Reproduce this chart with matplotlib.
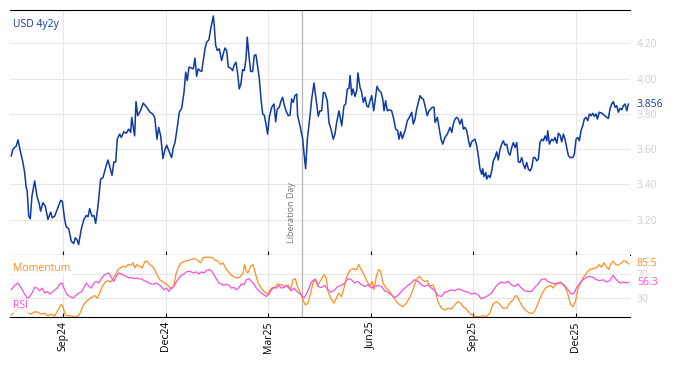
import pandas as pd
import matplotlib
matplotlib.use("Agg")
import matplotlib.pyplot as plt
import matplotlib.dates as mdates

plt.rcParams['font.family'] = ['Open Sans', 'DejaVu Sans']

# days counted from this date
start = pd.Timestamp("2024-07-15")

# USD 4y2y rate
usd_days = [3.0, 4.5, 7.5, 9.0, 11.4, 13.4, 14.9, 16.3, 17.2, 18.5,
            19.9, 21.4, 23.8, 25.8, 27.6, 29.1, 31.1, 33.2, 35.6, 38.0,
            39.4, 41.5, 43.8, 46.9, 48.3, 50.4, 51.8, 54.0, 56.3, 58.4,
            59.8, 61.3, 62.8, 65.1, 67.5, 69.6, 71.1, 72.6, 74.6, 76.4,
            77.9, 80.0, 82.3, 84.4, 86.4, 88.8, 90.3, 92.4, 94.1, 95.7,
            97.1, 99.2, 100.6, 103.0, 105.1, 107.2, 109.0, 109.9, 112.5, 113.7,
            115.2, 117.8, 120.1, 123.2, 126.1, 128.5, 130.3, 132.3, 133.8, 135.6,
            137.6, 139.1, 140.9, 143.2, 145.3, 146.8, 148.3, 150.3, 152.1, 154.2,
            156.3, 157.8, 159.2, 160.7, 162.5, 164.5, 166.0, 167.5, 168.9, 170.5,
            172.0, 173.4, 174.9, 176.4, 178.4, 180.0, 182.3, 183.1, 184.4, 185.8,
            187.6, 189.7, 191.1, 192.6, 194.1, 195.6, 197.7, 199.5, 200.6, 202.4,
            203.9, 205.3, 206.8, 208.3, 209.8, 211.3, 212.4, 213.9, 215.4, 217.2,
            218.6, 220.1, 221.7, 223.1, 224.6, 226.1, 227.5, 229.0, 230.5, 231.9,
            234.1, 236.1, 237.6, 239.0, 240.8, 242.1, 243.8, 245.0, 246.8, 248.8,
            250.3, 251.8, 253.2, 254.7, 256.3, 257.1, 259.2, 261.6, 262.7, 264.2,
            265.7, 267.4, 269.6, 271.6, 273.4, 275.4, 276.9, 278.4, 279.9, 281.4,
            283.4, 284.9, 286.7, 288.7, 290.2, 291.7, 293.8, 296.2, 298.2, 299.7,
            301.2, 302.7, 303.6, 305.1, 306.2, 308.0, 309.5, 310.6, 312.4, 313.9,
            315.4, 316.9, 318.4, 319.8, 321.3, 322.8, 324.6, 326.4, 327.5, 329.3,
            331.1, 332.6, 333.7, 335.2, 336.6, 338.4, 340.5, 342.0, 344.1, 345.9,
            347.0, 348.5, 350.0, 352.4, 354.4, 356.2, 358.3, 359.7, 361.2, 362.7,
            364.2, 365.7, 367.2, 368.6, 370.1, 372.1, 373.6, 375.2, 376.6, 378.1,
            379.0, 381.0, 382.8, 384.3, 385.8, 387.8, 389.9, 392.3, 393.8, 395.2,
            396.7, 398.2, 399.6, 401.1, 402.7, 404.1, 405.6, 407.1, 408.5, 410.0,
            411.5, 412.4, 414.4, 416.0, 417.4, 418.9, 420.4, 421.3, 422.4, 424.0,
            424.8, 426.3, 427.8, 429.3, 430.7, 432.2, 433.7, 435.1, 436.6, 438.2,
            439.6, 441.1, 442.6, 444.0, 445.5, 447.0, 448.4, 450.0, 451.5, 452.9,
            454.4, 455.9, 457.3, 458.8, 460.3, 461.8, 463.3, 464.8, 466.2, 467.7,
            469.2, 470.6, 472.1, 473.6, 475.1, 476.6, 478.1, 479.0, 480.4, 482.5,
            483.9, 485.4, 487.0, 488.4, 489.9, 491.4, 492.8, 494.3, 495.8, 497.2,
            498.8, 501.2, 502.6, 504.1, 505.6, 507.0, 508.5, 510.0, 511.4, 513.0,
            514.5, 515.9, 517.4, 518.9, 520.3, 521.8, 523.0, 524.7, 526.9, 528.9,
            531.3, 532.7, 534.2, 535.7, 537.2, 538.7, 540.2, 541.6, 543.1, 544.6,
            546.1, 547.6, 549.1, 550.5]
usd_vals = [3.562, 3.600, 3.619, 3.653, 3.580, 3.525, 3.468, 3.382, 3.363, 3.220,
            3.206, 3.334, 3.420, 3.334, 3.297, 3.249, 3.297, 3.277, 3.202, 3.243,
            3.211, 3.220, 3.259, 3.310, 3.306, 3.202, 3.160, 3.149, 3.078, 3.065,
            3.097, 3.088, 3.059, 3.145, 3.202, 3.224, 3.217, 3.263, 3.220, 3.224,
            3.179, 3.277, 3.430, 3.439, 3.487, 3.539, 3.505, 3.452, 3.528, 3.528,
            3.657, 3.686, 3.667, 3.699, 3.691, 3.714, 3.695, 3.780, 3.676, 3.870,
            3.790, 3.820, 3.862, 3.838, 3.810, 3.800, 3.780, 3.657, 3.724, 3.676,
            3.547, 3.591, 3.623, 3.585, 3.553, 3.610, 3.638, 3.724, 3.810, 3.832,
            3.923, 4.037, 3.990, 4.066, 4.062, 4.056, 4.117, 4.014, 4.056, 4.046,
            4.041, 4.103, 4.170, 4.208, 4.221, 4.284, 4.356, 4.303, 4.189, 4.160,
            4.170, 4.103, 4.141, 4.174, 4.160, 4.066, 4.060, 4.046, 4.075, 4.094,
            4.027, 3.942, 3.971, 4.052, 4.046, 4.113, 4.236, 4.132, 4.041, 4.041,
            4.132, 4.136, 4.066, 4.000, 3.885, 3.800, 3.794, 3.743, 3.686, 3.781,
            3.838, 3.857, 3.756, 3.828, 3.838, 3.870, 3.895, 3.857, 3.818, 3.790,
            3.794, 3.885, 3.866, 3.904, 3.913, 3.790, 3.733, 3.657, 3.580, 3.490,
            3.657, 3.752, 3.885, 3.976, 3.885, 3.787, 3.818, 3.818, 3.923, 3.918,
            3.875, 3.752, 3.714, 3.657, 3.686, 3.752, 3.818, 3.733, 3.847, 3.857,
            3.942, 3.946, 4.018, 3.908, 3.942, 3.900, 3.933, 4.033, 3.952, 3.923,
            3.866, 3.895, 3.847, 3.838, 3.875, 3.904, 3.818, 3.904, 3.957, 3.933,
            3.923, 3.885, 3.818, 3.875, 3.818, 3.824, 3.818, 3.781, 3.714, 3.705,
            3.657, 3.699, 3.661, 3.705, 3.762, 3.781, 3.810, 3.743, 3.771, 3.828,
            3.866, 3.904, 3.889, 3.885, 3.847, 3.790, 3.818, 3.828, 3.838, 3.838,
            3.752, 3.781, 3.714, 3.657, 3.629, 3.667, 3.686, 3.724, 3.695, 3.743,
            3.771, 3.781, 3.771, 3.743, 3.771, 3.714, 3.724, 3.705, 3.657, 3.613,
            3.642, 3.648, 3.657, 3.619, 3.562, 3.487, 3.458, 3.490, 3.445, 3.468,
            3.430, 3.452, 3.439, 3.477, 3.534, 3.553, 3.585, 3.539, 3.600, 3.629,
            3.648, 3.623, 3.629, 3.582, 3.566, 3.610, 3.638, 3.610, 3.638, 3.528,
            3.525, 3.553, 3.515, 3.490, 3.525, 3.487, 3.477, 3.496, 3.553, 3.553,
            3.534, 3.543, 3.638, 3.657, 3.648, 3.676, 3.648, 3.705, 3.629, 3.657,
            3.648, 3.667, 3.634, 3.691, 3.680, 3.642, 3.686, 3.657, 3.610, 3.566,
            3.553, 3.553, 3.572, 3.657, 3.667, 3.648, 3.705, 3.733, 3.771, 3.781,
            3.762, 3.800, 3.790, 3.804, 3.787, 3.800, 3.771, 3.810, 3.805, 3.794,
            3.781, 3.775, 3.828, 3.857, 3.870, 3.838, 3.847, 3.810, 3.832, 3.824,
            3.847, 3.857, 3.818, 3.856]

# RSI
rsi_days = [3.0, 6.0, 9.0, 11.9, 14.9, 17.2, 19.3, 21.4, 23.8, 26.1,
            28.2, 30.5, 32.7, 35.0, 37.1, 39.4, 41.5, 43.8, 46.0, 48.0,
            50.4, 52.7, 55.1, 57.8, 60.2, 62.8, 65.1, 67.5, 69.6, 72.0,
            74.0, 76.4, 78.4, 80.6, 82.9, 85.3, 87.3, 89.7, 91.7, 94.1,
            96.2, 98.6, 100.6, 103.0, 105.1, 107.5, 109.5, 111.9, 113.9, 116.3,
            118.4, 120.8, 122.8, 125.2, 127.2, 129.6, 131.7, 134.1, 136.1, 138.5,
            140.5, 142.9, 145.0, 147.4, 149.4, 151.8, 153.9, 156.3, 158.3, 160.7,
            162.7, 165.1, 167.2, 169.6, 171.6, 174.0, 176.0, 178.4, 180.5, 182.9,
            184.9, 187.3, 189.4, 191.7, 193.8, 196.2, 198.2, 200.6, 202.7, 205.1,
            207.1, 209.5, 211.5, 213.9, 216.0, 218.4, 220.4, 222.8, 224.8, 227.2,
            229.3, 231.7, 233.7, 236.1, 238.2, 240.5, 242.6, 245.0, 247.0, 249.4,
            251.5, 253.9, 255.9, 258.3, 260.3, 262.7, 264.8, 267.2, 269.2, 271.6,
            273.6,
            275.2, 278.1, 281.1, 284.0, 287.0, 289.9, 292.9, 295.9, 298.8, 301.8,
            304.7, 307.7, 310.6, 313.6, 316.6, 319.5, 322.5, 325.4, 328.4, 331.4,
            334.3, 337.3, 340.2, 343.2, 346.1, 349.1, 352.1, 355.0, 358.0, 360.9,
            363.9, 366.8, 369.8, 372.8, 375.7, 378.7, 381.6, 384.6, 387.6, 390.5,
            393.5, 396.4, 399.4, 402.3, 405.3, 408.3, 411.2, 414.2, 417.1, 420.1,
            423.1, 426.0, 429.0, 431.9, 434.9, 437.8, 440.8, 443.8, 446.7, 449.7,
            452.6, 455.6, 458.5, 461.5, 464.5, 467.4, 470.4, 473.3, 476.3, 479.2,
            482.2, 485.2, 488.1, 491.1, 494.0, 497.0, 499.9, 502.3, 504.4, 507.4,
            510.3, 513.3, 516.2, 519.2, 522.1, 525.1, 528.0, 531.0, 534.0, 536.9,
            539.9, 542.8, 545.8, 548.8, 550.8]
rsi_vals = [43.9, 50.9, 54.8, 46.6, 36.9, 30.4, 33.0, 38.5, 47.7, 46.6,
            42.3, 46.6, 38.5, 41.2, 36.9, 40.1, 43.9, 46.6, 53.2, 54.8,
            43.9, 35.8, 33.0, 30.4, 34.6, 38.5, 40.1, 47.7, 54.8, 49.3,
            46.6, 54.8, 57.4, 54.8, 61.8, 67.2, 69.4, 71.1, 63.9, 57.4,
            65.5, 71.1, 69.4, 67.2, 65.5, 62.9, 63.9, 61.8, 62.9, 61.3,
            61.8, 58.5, 57.4, 54.8, 53.2, 53.2, 54.8, 52.0, 49.3, 43.9,
            46.6, 41.2, 46.6, 49.3, 56.4, 62.9, 67.2, 69.4, 72.7, 73.7,
            72.7, 71.1, 72.7, 69.4, 72.7, 71.1, 74.8, 76.4, 74.8, 68.3,
            61.8, 54.8, 53.2, 50.9, 53.2, 50.9, 46.6, 47.7, 43.9, 47.7,
            53.2, 52.0, 60.2, 61.8, 57.4, 53.2, 46.6, 42.3, 38.5, 35.8,
            33.0, 36.9, 43.9, 47.7, 46.6, 50.9, 46.6, 47.7, 50.9, 46.6,
            42.3, 46.6, 42.3, 38.5, 35.8, 30.4, 36.9, 46.6, 56.4, 60.2,
            57.4,
            49.3, 47.7, 50.9, 43.9, 40.1, 43.9, 49.3, 50.9, 54.8, 61.8,
            60.2, 54.8, 57.4, 52.0, 49.3, 52.0, 46.6, 49.3, 50.9, 49.3,
            42.3, 40.1, 35.8, 31.4, 34.6, 41.2, 46.6, 50.9, 54.8, 60.2,
            57.4, 52.0, 49.3, 52.0, 46.6, 42.3, 34.6, 33.0, 40.1, 41.2,
            43.9, 42.3, 45.5, 43.9, 41.2, 40.1, 36.9, 38.5, 35.8, 29.3,
            31.4, 34.6, 38.5, 46.6, 53.2, 56.4, 54.8, 57.4, 52.0, 49.3,
            53.2, 46.6, 42.3, 41.2, 41.2, 47.7, 53.2, 60.2, 61.8, 57.4,
            54.8, 53.2, 54.8, 54.8, 50.9, 43.9, 36.9, 38.5, 46.6, 54.8,
            60.2, 63.9, 65.5, 63.9, 60.2, 58.5, 60.2, 56.4, 58.5, 67.2,
            60.2, 54.8, 56.4, 54.8, 56.3]

# Momentum
mom_days = [3.0, 7.5, 11.9, 16.3, 20.8, 23.8, 26.7, 29.6, 32.7, 35.6,
            38.5, 41.5, 44.5, 47.4, 48.9, 50.9, 53.3, 56.3, 59.3, 62.2,
            63.7, 65.8, 68.1, 71.1, 74.0, 77.0, 79.3, 81.5, 83.8, 86.4,
            88.8, 91.2, 93.3, 95.3, 97.7, 100.1, 102.1, 104.5, 106.6, 109.0,
            111.0, 112.5, 114.6, 116.9, 119.3, 121.4, 123.7, 125.8, 128.1, 130.3,
            132.6, 134.7, 137.6, 140.5, 142.9, 145.0, 147.1, 149.4, 151.8, 153.9,
            156.9, 159.8, 162.7, 165.7, 168.7, 171.1, 173.1, 176.0, 179.1, 182.0,
            184.0, 186.4, 188.8, 190.9, 192.9, 195.3, 197.7, 199.7, 202.7, 205.7,
            208.6, 210.1, 211.5, 213.0, 215.4, 217.5, 219.5, 221.9, 224.8, 227.9,
            230.8, 233.7, 236.7, 239.7, 242.6, 245.6, 248.5, 250.9, 253.0, 255.0,
            257.4, 259.8, 261.8, 263.9, 266.3, 268.7, 270.7, 272.8, 275.2,
            278.1, 280.5, 282.5, 284.0, 286.4, 289.4, 291.4, 293.5, 295.9, 298.2,
            300.3, 303.3, 306.2, 309.2, 311.2, 313.6, 316.6, 318.9, 321.0, 323.1,
            324.8, 326.9, 329.0, 330.8, 332.8, 335.8, 338.7, 341.7, 344.7, 347.6,
            350.6, 353.5, 356.5, 358.9, 360.9, 363.3, 365.4, 367.4, 369.8, 372.2,
            374.2, 377.2, 379.3, 381.6, 384.6, 387.6, 390.5, 393.5, 396.4, 399.4,
            401.8, 403.8, 406.8, 409.7, 412.7, 415.6, 418.6, 421.6, 424.5, 427.5,
            430.4, 433.4, 436.4, 439.3, 442.3, 445.2, 448.2, 450.3, 452.0, 454.1,
            457.1, 460.0, 463.0, 465.9, 468.0, 470.4, 472.7, 474.8, 476.9, 479.3,
            481.6, 483.7, 485.8, 488.1, 490.5, 492.6, 494.6, 497.0, 499.1, 501.4,
            503.5, 505.9, 508.2, 510.3, 513.3, 516.2, 519.2, 522.1, 524.5, 526.6,
            528.9, 531.0, 533.1, 534.9, 536.9, 539.3, 541.4, 544.3, 546.7, 548.8,
            550.8]
mom_vals = [3.3, 11.4, 14.1, 8.6, 4.4, 8.6, 7.6, 4.4, 6.0, 2.1,
            4.4, 1.6, 11.4, 20.6, 16.7, 3.3, 2.1, 1.6, 0.5, 1.6,
            4.4, 14.1, 22.3, 27.6, 31.4, 34.6, 30.4, 38.5, 49.3, 56.4,
            58.5, 56.4, 61.8, 67.2, 76.4, 79.2, 81.8, 80.2, 84.6, 83.4,
            87.3, 79.2, 84.6, 81.8, 79.2, 88.9, 89.9, 84.6, 81.8, 76.4,
            67.2, 60.2, 56.4, 53.2, 49.3, 45.5, 49.3, 71.1, 81.8, 87.3,
            89.9, 91.1, 92.7, 94.3, 91.1, 87.3, 95.4, 96.4, 96.4, 95.4,
            91.1, 89.9, 84.6, 87.3, 80.2, 73.7, 68.3, 65.5, 62.9, 63.9,
            71.1, 84.6, 73.7, 71.1, 81.8, 84.6, 71.1, 54.8, 46.6, 40.1,
            36.9, 46.6, 47.7, 53.2, 52.0, 49.3, 52.0, 43.9, 60.2, 61.8,
            46.6, 38.5, 27.6, 19.5, 22.3, 38.5, 54.8, 61.8, 52.0,
            60.2, 68.3, 62.9, 41.2, 30.4, 22.3, 30.4, 38.5, 33.0, 46.6,
            62.9, 74.8, 78.0, 76.4, 84.6, 76.4, 65.5, 57.4, 49.3, 57.4,
            43.9, 65.5, 76.4, 73.7, 54.8, 46.6, 41.2, 33.0, 24.9, 19.5,
            16.7, 22.3, 31.4, 41.2, 52.0, 62.9, 65.5, 60.2, 57.4, 58.5,
            49.3, 52.0, 41.2, 24.9, 14.1, 11.4, 14.1, 13.0, 19.5, 24.9,
            22.3, 16.7, 13.0, 6.0, 2.1, 0.5, 0.5, 2.1, 0.5, 6.0,
            20.6, 24.9, 20.6, 14.1, 14.1, 22.3, 27.6, 34.6, 33.0, 24.9,
            15.1, 9.8, 6.0, 6.0, 11.4, 22.3, 33.0, 40.1, 46.6, 49.3,
            50.9, 46.6, 52.0, 54.8, 56.4, 52.0, 47.7, 35.8, 20.6, 16.7,
            24.9, 46.6, 54.8, 62.9, 71.1, 76.4, 78.0, 79.2, 84.6, 80.2,
            87.3, 81.8, 76.4, 85.7, 89.9, 84.6, 83.4, 87.3, 91.1, 88.9,
            85.5]

tick_months = ["2024-09-01", "2024-12-01", "2025-03-01", "2025-06-01", "2025-09-01", "2025-12-01"]
liberation_day = pd.Timestamp("2025-04-02")

usd_dates = start + pd.to_timedelta(usd_days, unit="D")
rsi_dates = start + pd.to_timedelta(rsi_days, unit="D")
mom_dates = start + pd.to_timedelta(mom_days, unit="D")
# first business day of each month
tick_dates = [pd.Timestamp(m) + pd.offsets.BDay(0) for m in tick_months]
lib_num = mdates.date2num(liberation_day)

blue = "#0d3aa6"
orange = "#ff8f22"
pink = "#f651d8"
grid_c = "#e6e6e6"
lab_c = "#cfcfcf"

fig = plt.figure(figsize=(6.74, 3.66), dpi=100)
ax1 = fig.add_axes([0.0148, 0.3033, 0.92, 0.6694])
ax2 = fig.add_axes([0.0148, 0.1339, 0.92, 0.1694], sharex=ax1)

ax1.plot(usd_dates, usd_vals, color=blue, lw=1.1, zorder=3)
ax2.plot(mom_dates, mom_vals, color=orange, lw=0.9, zorder=3)
ax2.plot(rsi_dates, rsi_vals, color=pink, lw=0.9, zorder=3)

for ax in (ax1, ax2):
    ax.axvline(lib_num, color="#b5b5b5", lw=0.9, zorder=2)
    ax.grid(True, color=grid_c, lw=0.8)
    ax.set_axisbelow(True)
    for s in ("left", "right"):
        ax.spines[s].set_visible(False)
    ax.spines["top"].set_color("black")
    ax.spines["bottom"].set_color("black")
    ax.yaxis.tick_right()
    ax.tick_params(axis="y", length=0, pad=5, labelcolor=lab_c, labelsize=7.5)
    ax.tick_params(axis="x", direction="in", length=3, width=0.8, color="black")

ax1.set_xlim(usd_dates[0] - pd.Timedelta(days=1.1), usd_dates[-1] + pd.Timedelta(days=1.5))
ax1.set_ylim(3.0, 4.39)
ax1.set_yticks([3.2, 3.4, 3.6, 3.8, 4.0, 4.2])
ax1.yaxis.set_major_formatter(plt.FormatStrFormatter("%.2f"))
ax1.tick_params(axis="x", labelbottom=False)

ax2.set_ylim(0, 100)
ax2.set_yticks([30, 70])
ax2.spines["top"].set_visible(False)
ax2.set_xticks(tick_dates)
ax2.xaxis.set_major_formatter(mdates.DateFormatter("%b%y"))
ax2.tick_params(axis="x", labelrotation=90, labelsize=7.5, pad=3)

ax1.text(0.005, 0.94, "USD 4y2y", transform=ax1.transAxes, color=blue, fontsize=7.5,
         ha="left", va="center", zorder=5,
         bbox=dict(facecolor="white", edgecolor="none", pad=1.5))
ax1.annotate("Liberation Day", xy=(lib_num, 0.05), xycoords=ax1.get_xaxis_transform(),
             xytext=(-4, 0), textcoords="offset points", rotation=90,
             ha="right", va="bottom", fontsize=6.5, color="#777777")

ax2.text(0.005, 0.79, "Momentum", transform=ax2.transAxes, color=orange, fontsize=7.5,
         ha="left", va="center", zorder=5,
         bbox=dict(facecolor="white", edgecolor="none", pad=1, alpha=0.8))
ax2.text(0.005, 0.18, "RSI", transform=ax2.transAxes, color=pink, fontsize=7.5,
         ha="left", va="center", zorder=5,
         bbox=dict(facecolor="white", edgecolor="none", pad=1, alpha=0.8))

# last values at the right edge
ax1.annotate(f"{usd_vals[-1]:.3f}", xy=(1, usd_vals[-1]), xycoords=ax1.get_yaxis_transform(),
             xytext=(5, 0), textcoords="offset points", va="center", ha="left",
             color=blue, fontsize=7.5, bbox=dict(facecolor="white", edgecolor="none", pad=0.5))
ax2.annotate(f"{mom_vals[-1]:.1f}", xy=(1, mom_vals[-1]), xycoords=ax2.get_yaxis_transform(),
             xytext=(5, 0), textcoords="offset points", va="center", ha="left",
             color=orange, fontsize=7.5, bbox=dict(facecolor="white", edgecolor="none", pad=0.5))
ax2.annotate(f"{rsi_vals[-1]:.1f}", xy=(1, rsi_vals[-1]), xycoords=ax2.get_yaxis_transform(),
             xytext=(5, 0), textcoords="offset points", va="center", ha="left",
             color=pink, fontsize=7.5, bbox=dict(facecolor="white", edgecolor="none", pad=0.5))

fig.savefig("out.png", dpi=100)
